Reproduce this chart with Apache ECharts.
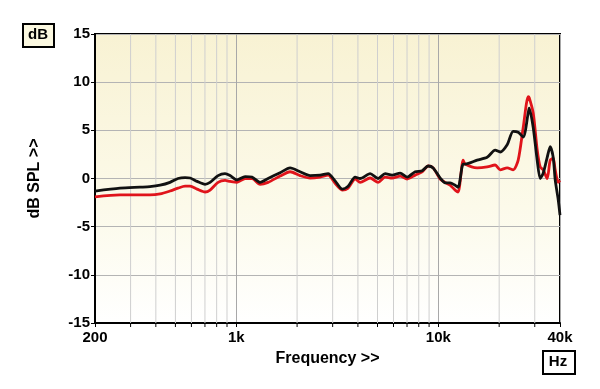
<!DOCTYPE html>
<html>
<head>
<meta charset="utf-8">
<script src="https://cdn.jsdelivr.net/npm/echarts@6/dist/echarts.min.js"></script>
<style>html,body{margin:0;padding:0;background:#fff;}#c{width:600px;height:389px;}</style>
</head>
<body>
<div id="c"></div>
<script>
// Frequencies (Hz) shared by both traces
const freqs = [200,266,334,374,420,470,515,558,591,640,701,742,813,880,932,1009,1106,1197,1312,1437,1648,1847,2069,2320,2600,2849,3085,3342,3577,3875,4102,4596,5036,5455,5906,6471,7009,7678,8315,8903,9428,10213,10810,11441,12112,12532,13268,13575,15566,17443,19108,20230,21910,23460,24840,26300,27840,28160,29480,30840,31920,33030,34570,35770,37010,37870,39200,40000];
// Black trace (dB)
const blackDb = [-1.3,-1.0,-0.9,-0.85,-0.7,-0.4,0.0,0.1,0.05,-0.3,-0.6,-0.4,0.3,0.5,0.3,-0.15,0.2,0.15,-0.4,0.0,0.6,1.1,0.7,0.3,0.35,0.5,-0.25,-1.1,-0.8,0.15,0.0,0.5,0.0,0.5,0.35,0.55,0.15,0.7,0.8,1.3,1.1,0.05,-0.45,-0.45,-0.7,-0.9,1.5,1.5,1.9,2.2,2.95,2.75,3.5,4.9,4.8,4.3,6.8,7.3,5.3,1.9,0.0,0.55,2.2,3.3,2.2,-0.15,-2.2,-3.8];
// Red trace (dB)
const redDb = [-1.9,-1.7,-1.7,-1.7,-1.6,-1.3,-1.0,-0.8,-0.8,-1.1,-1.4,-1.2,-0.4,-0.2,-0.3,-0.4,0.0,0.0,-0.6,-0.4,0.25,0.7,0.3,0.05,0.15,0.35,-0.5,-1.2,-1.0,-0.05,-0.4,0.05,-0.4,0.15,0.05,0.25,-0.05,0.35,0.7,1.3,1.1,-0.05,-0.4,-0.7,-1.2,-1.4,1.9,1.5,1.1,1.2,1.4,0.9,1.1,0.9,1.9,5.3,8.5,8.4,6.8,3.0,1.2,0.9,0.0,1.9,2.1,0.9,-0.4,-0.2];
// Minor grid frequencies
const minorFreqs = [300,400,500,600,700,800,900,2000,3000,4000,5000,6000,7000,8000,9000,20000,30000];
const yTicks = [-15,-10,-5,0,5,10,15];

const chart = echarts.init(document.getElementById('c'), null, {renderer:'canvas'});
const font = 'Liberation Sans, Arial, sans-serif';
const bg = new echarts.graphic.LinearGradient(0,0,0,1,[
  {offset:0,color:'#f8f2d3'},{offset:0.6,color:'#fcfaea'},{offset:1,color:'#ffffff'}]);

chart.setOption({
  animation:false,
  backgroundColor:'#ffffff',
  grid:{left:95,right:40,top:34,bottom:66,show:true,backgroundColor:bg,borderColor:'#000',borderWidth:2},
  xAxis:{
    type:'log',logBase:10,min:200,max:40000,
    name:'Frequency >>',nameLocation:'middle',nameGap:28,
    nameTextStyle:{fontFamily:font,fontWeight:'bold',fontSize:16,color:'#000'},
    axisLine:{onZero:false,lineStyle:{color:'#000',width:2}},
    axisTick:{show:true,length:4,lineStyle:{color:'#000'}},
    axisLabel:{fontFamily:font,fontWeight:'bold',fontSize:15,color:'#000',margin:7,
      formatter:function(v){v=Math.round(v);return v>=1000?(v/1000)+'k':String(v);}},
    splitLine:{show:true,lineStyle:{color:'#a8a8a8',width:1}}
  },
  yAxis:{
    type:'value',min:yTicks[0],max:yTicks[yTicks.length-1],interval:5,
    name:'dB SPL >>',nameLocation:'middle',nameGap:52,nameRotate:90,
    nameTextStyle:{fontFamily:font,fontWeight:'bold',fontSize:16,color:'#000'},
    axisLine:{show:true,onZero:false,lineStyle:{color:'#000',width:2}},
    axisTick:{show:true,length:4,lineStyle:{color:'#000'}},
    axisLabel:{fontFamily:font,fontWeight:'bold',fontSize:15,color:'#000',margin:5},
    splitLine:{show:true,lineStyle:{color:'#b4b4b4',width:1}}
  },
  graphic:[
    {type:'rect',left:22,top:23,shape:{width:31,height:23},style:{fill:'#fbf8e0',stroke:'#000',lineWidth:2}},
    {type:'text',x:38,y:35,style:{text:'dB',font:'bold 15px Liberation Sans, Arial, sans-serif',fill:'#000',textAlign:'center',textVerticalAlign:'middle'}},
    {type:'rect',left:542,top:350,shape:{width:32,height:23},style:{fill:'#ffffff',stroke:'#000',lineWidth:2}},
    {type:'text',x:558,y:362,style:{text:'Hz',font:'bold 15px Liberation Sans, Arial, sans-serif',fill:'#000',textAlign:'center',textVerticalAlign:'middle'}}
  ],
  series:[
    {
      type:'custom',silent:true,z:1,
      data:minorFreqs.map(f=>[f,0]),
      encode:{x:0,y:1},
      renderItem:function(params,api){
        const f=api.value(0);
        const top=api.coord([f,yTicks[yTicks.length-1]]);
        const bot=api.coord([f,yTicks[0]]);
        return {type:'group',children:[
          {type:'line',shape:{x1:top[0],y1:top[1],x2:bot[0],y2:bot[1]},style:{stroke:'#cfcfcf',lineWidth:1}},
          {type:'line',shape:{x1:bot[0],y1:bot[1],x2:bot[0],y2:bot[1]+4},style:{stroke:'#000',lineWidth:1}}
        ]};
      }
    },
    {type:'line',name:'red',z:3,data:freqs.map((f,i)=>[f,redDb[i]]),showSymbol:false,smooth:0.25,
      lineStyle:{color:'#e0141b',width:2.8}},
    {type:'line',name:'black',z:4,data:freqs.map((f,i)=>[f,blackDb[i]]),showSymbol:false,smooth:0.25,
      lineStyle:{color:'#111111',width:2.8}}
  ]
});
</script>
</body>
</html>
